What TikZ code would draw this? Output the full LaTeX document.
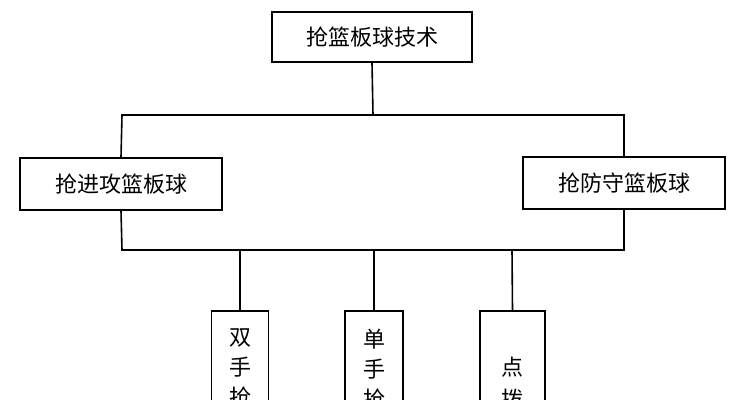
\documentclass[tikz,border=0pt]{standalone}
\usepackage{fontspec}
\setmainfont{Noto Sans CJK SC}
\usetikzlibrary{positioning}
\tikzset{
topbox/.style={draw,thick,minimum width=100pt,minimum height=25pt,font=\fontsize{11}{13}\selectfont},
midbox/.style={draw,thick,minimum width=101pt,minimum height=26pt,font=\fontsize{11}{13}\selectfont},
subbox/.style={draw,thick,anchor=north,minimum height=60pt,font=\fontsize{11}{15}\selectfont,align=center,text depth=0pt,inner sep=0pt,text width=11pt},
link/.style={thick}
}
\begin{document}
\begin{tikzpicture}[x=0.5pt,y=-0.5pt]
\useasboundingbox (0,0) rectangle (743,400);
\clip (0,0) rectangle (743,400);
\node[topbox] (tech) at (372,37) {抢篮板球技术};
\node[midbox] (attack) at (121,184) {抢进攻篮板球};
\node[midbox] (defend) at (624,183) {抢防守篮板球};
\coordinate (split) at (373,115);
\coordinate (lturn) at (122,115);
\coordinate (rturn) at (624,115);
\coordinate (lbot) at (122,250);
\coordinate (rbot) at (624,250);
\draw[link] (tech.south) -- (split);
\draw[link] (attack.north) -- (lturn) -- (rturn) -- (defend.north);
\draw[link] (attack.south) -- (lbot) -- (rbot) -- (defend.south);
\node[subbox,minimum width=28.5pt] (twohand) at (240,310) {};
\node[subbox,minimum width=29pt] (onehand) at (374,310) {};
\node[subbox,minimum width=32.5pt] (tip) at (512.5,310) {};
\node[anchor=north,font=\fontsize{11}{15}\selectfont,align=center] (twotext) at (240,322) {双\\手\\抢\\篮};
\node[anchor=north,font=\fontsize{11}{15}\selectfont,align=center] (onetext) at (374,322) {单\\手\\抢\\篮};
\node[anchor=north,font=\fontsize{11}{16}\selectfont,align=center] (tiptext) at (512.5,350) {点\\拨};
\foreach \b/\x in {twohand/240,onehand/374,tip/512} {
  \draw[link] (\x,250) -- (\b.north);
}
\end{tikzpicture}
\end{document}
